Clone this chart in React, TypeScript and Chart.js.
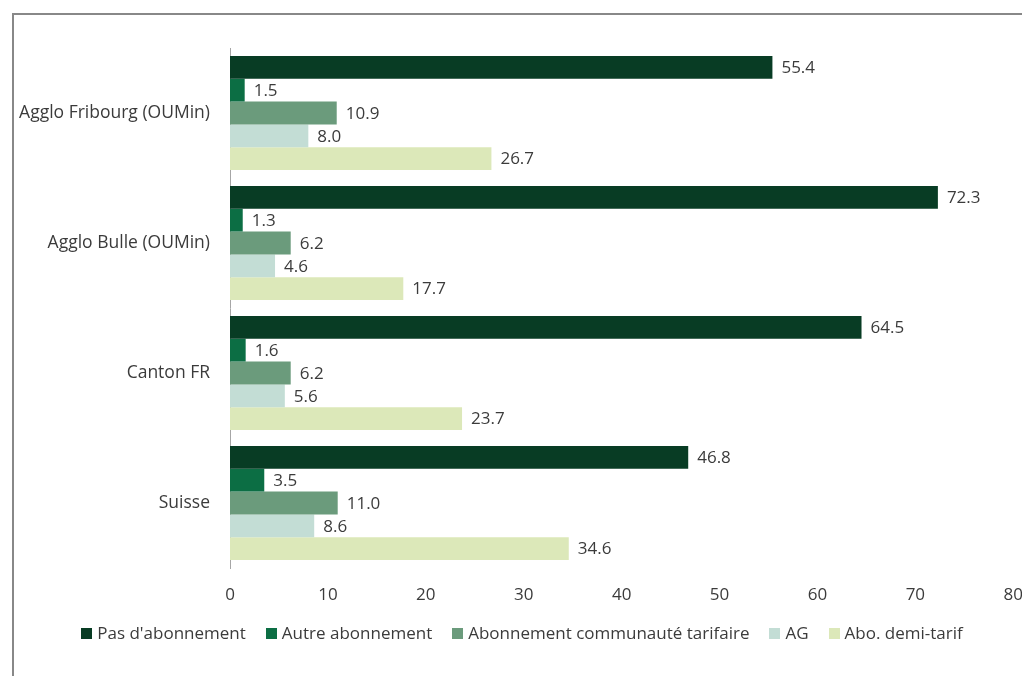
import React, { useEffect, useRef } from "react";
import { Chart, registerables } from "chart.js";

Chart.register(...registerables);

const categories = ["Agglo Fribourg (OUMin)", "Agglo Bulle (OUMin)", "Canton FR", "Suisse"];
const seriesNames = [
  "Pas d'abonnement",
  "Autre abonnement",
  "Abonnement communauté tarifaire",
  "AG",
  "Abo. demi-tarif",
];
const pasAbonnement = [55.4, 72.3, 64.5, 46.8];
const autreAbonnement = [1.5, 1.3, 1.6, 3.5];
const communauteTarifaire = [10.9, 6.2, 6.2, 11.0];
const ag = [8.0, 4.6, 5.6, 8.6];
const demiTarif = [26.7, 17.7, 23.7, 34.6];
const seriesColors = ["#083c24", "#0c6e44", "#6b9b7c", "#c3ddd5", "#dce8b9"];
const xTicks = [0, 10, 20, 30, 40, 50, 60, 70, 80];

const FONT = "'Open Sans', sans-serif";
const FS = 17;
const TEXT = "#3b3b3b";

const valueLabels = {
  id: "valueLabels",
  afterDatasetsDraw(chart: any) {
    const ctx = chart.ctx;
    ctx.save();
    ctx.font = `${FS}px ${FONT}`;
    ctx.fillStyle = TEXT;
    ctx.textAlign = "left";
    ctx.textBaseline = "middle";
    chart.data.datasets.forEach((ds: any, di: number) => {
      const meta = chart.getDatasetMeta(di);
      meta.data.forEach((el: any, i: number) => {
        const v = ds.data[i] as number;
        ctx.fillText(v.toFixed(1), el.x + 9, el.y + 1);
      });
    });
    ctx.restore();
  },
};

export default function App() {
  const ref = useRef<HTMLCanvasElement>(null);
  useEffect(() => {
    if (!ref.current) return;
    const data = [pasAbonnement, autreAbonnement, communauteTarifaire, ag, demiTarif];
    const chart = new Chart(ref.current, {
      type: "bar",
      data: {
        labels: categories,
        datasets: data.map((d, i) => ({
          label: seriesNames[i],
          data: d,
          backgroundColor: seriesColors[i],
          borderWidth: 0,
          categoryPercentage: 0.877,
          barPercentage: 1.0,
        })),
      },
      options: {
        indexAxis: "y",
        animation: false,
        responsive: false,
        devicePixelRatio: 1,
        layout: { padding: { top: 48, right: 24, bottom: 69, left: 0 } },
        scales: {
          x: {
            min: 0,
            max: 80,
            afterBuildTicks: (s: any) => {
              s.ticks = xTicks.map((v) => ({ value: v }));
            },
            afterFit: (s: any) => {
              s.height = 39;
            },
            grid: { display: false, drawTicks: false },
            border: { display: false },
            ticks: {
              padding: 17,
              color: TEXT,
              font: { family: FONT, size: FS },
              maxRotation: 0,
            },
          },
          y: {
            afterFit: (s: any) => {
              s.width = 230;
            },
            grid: { display: false, drawTicks: false },
            border: { display: true, color: "#a6a6a6", width: 1 },
            ticks: {
              padding: 20,
              color: TEXT,
              font: { family: FONT, size: 17.5 },
            },
          },
        },
        plugins: {
          legend: { display: false },
          tooltip: { enabled: false },
        },
      },
      plugins: [valueLabels],
    });
    return () => chart.destroy();
  }, []);

  return (
    <div
      style={{
        position: "fixed",
        left: 0,
        top: 0,
        width: 1022,
        height: 676,
        overflow: "hidden",
        background: "#ffffff",
      }}
    >
      <div
        style={{
          position: "absolute",
          left: 12,
          top: 13,
          width: 1040,
          height: 700,
          border: "2px solid #888888",
          boxSizing: "border-box",
        }}
      />
      <canvas
        ref={ref}
        width={1040}
        height={676}
        style={{ position: "absolute", left: 0, top: 0, width: 1040, height: 676 }}
      />
      <div
        style={{
          position: "absolute",
          left: 0,
          top: 621,
          width: 1044,
          textAlign: "center",
          whiteSpace: "nowrap",
          fontFamily: FONT,
          fontSize: FS,
          lineHeight: "normal",
          color: TEXT,
        }}
      >
        {seriesNames.map((name, i) => (
          <span key={name} style={{ marginRight: i < seriesNames.length - 1 ? 20 : 0 }}>
            <span
              style={{
                display: "inline-block",
                width: 11,
                height: 11,
                background: seriesColors[i],
                marginRight: 5,
                verticalAlign: "baseline",
              }}
            />
            {name}
          </span>
        ))}
      </div>
    </div>
  );
}
